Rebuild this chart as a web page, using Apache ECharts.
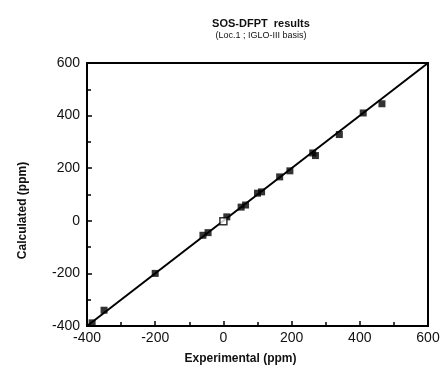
<!DOCTYPE html>
<html>
<head>
<meta charset="utf-8">
<script src="https://cdn.jsdelivr.net/npm/echarts@6/dist/echarts.min.js"></script>
<style>
  html, body { margin: 0; padding: 0; background: #fff; }
  #chart { width: 445px; height: 376px; }
</style>
</head>
<body>
<div id="chart"></div>
<script>
// experimental vs calculated shifts (ppm)
const experimental = [-385, -350, -200, -60, -45, 10, 52, 65, 100, 112, 165, 195, 262, 270, 340, 410, 465];
const calculated   = [-388, -340, -200, -55, -45, 15, 52, 60, 105, 110, 167, 190, 258, 248, 328, 410, 445];
// the one open square near the origin
const openExp = [0];
const openCalc = [-2];
// y = x reference line
const idealLine = [[-400, -400], [600, 600]];

const font = "'Liberation Sans', Arial, sans-serif";

const chart = echarts.init(document.getElementById('chart'));

function axisCommon() {
  return {
    type: 'value',
    min: -400,
    max: 600,
    interval: 200,
    axisLine: { show: true, onZero: false, lineStyle: { color: '#000', width: 2 } },
    axisTick: { show: true, inside: true, length: 5, lineStyle: { color: '#000', width: 1.5 } },
    minorTick: { show: true, splitNumber: 2, length: 4, lineStyle: { color: '#000', width: 1.5 } },
    splitLine: { show: false },
    axisLabel: {
      color: '#111',
      fontFamily: font,
      fontSize: 14,
      formatter: v => String(v)
    }
  };
}

const xAx = axisCommon();
xAx.name = 'Experimental (ppm)';
xAx.nameLocation = 'middle';
xAx.nameGap = 27;
xAx.nameTextStyle = { color: '#111', fontFamily: font, fontSize: 12, fontWeight: 'bold', padding: [0, 34, 0, 0] };
xAx.axisLabel.margin = 5;

const yAx = axisCommon();
yAx.name = 'Calculated (ppm)';
yAx.nameLocation = 'middle';
yAx.nameGap = 58;
yAx.nameTextStyle = { color: '#111', fontFamily: font, fontSize: 12, fontWeight: 'bold', padding: [0, 32, 0, 0] };
yAx.axisLabel.margin = 7;

chart.setOption({
  animation: false,
  title: {
    text: 'SOS-DFPT  results',
    subtext: '(Loc.1 ; IGLO-III basis)',
    left: 256,
    textAlign: 'center',
    top: 13,
    itemGap: 2,
    textStyle: { color: '#111', fontFamily: font, fontSize: 11, fontWeight: 'bold' },
    subtextStyle: { color: '#111', fontFamily: font, fontSize: 9 }
  },
  grid: {
    left: 87, right: 17, top: 63, bottom: 50,
    show: true, borderColor: '#000', borderWidth: 2, backgroundColor: 'transparent'
  },
  xAxis: xAx,
  yAxis: yAx,
  series: [
    {
      type: 'line',
      data: idealLine,
      symbol: 'none',
      lineStyle: { color: '#000', width: 2 },
      z: 2
    },
    {
      type: 'scatter',
      data: experimental.map((x, i) => [x, calculated[i]]),
      symbol: 'rect',
      symbolSize: 7,
      itemStyle: { color: '#000' },
      z: 3
    },
    {
      type: 'scatter',
      data: openExp.map((x, i) => [x, openCalc[i]]),
      symbol: 'rect',
      symbolSize: 7,
      itemStyle: { color: '#fff', borderColor: '#000', borderWidth: 1.5 },
      z: 4
    }
  ]
});
</script>
</body>
</html>
